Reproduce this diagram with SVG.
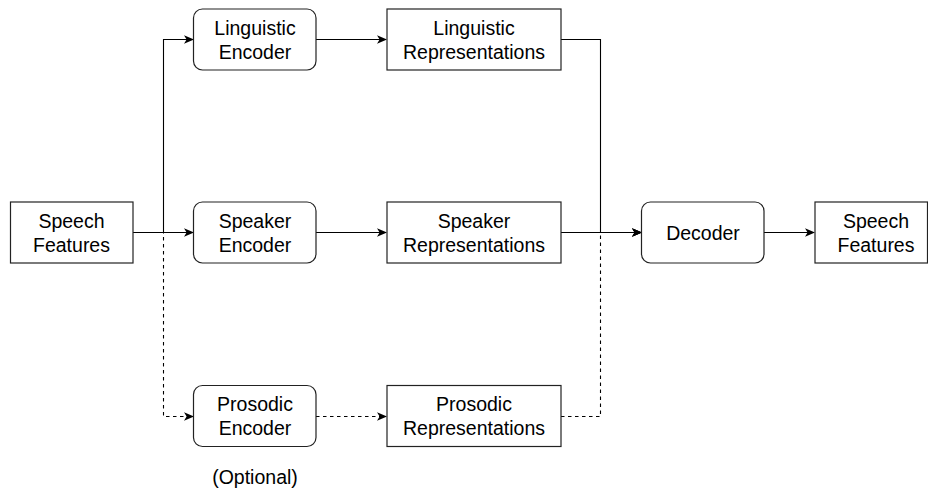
<svg xmlns="http://www.w3.org/2000/svg" width="928" height="491" viewBox="0 0 928 491">
  <defs>
    <marker id="arrow" viewBox="0 0 10 10" refX="9" refY="5" markerWidth="10" markerHeight="10" markerUnits="userSpaceOnUse" orient="auto">
      <path d="M0,0.8 L10,5 L0,9.2 L2.6,5 Z" fill="#000"/>
    </marker>
    <style>
      .box { fill: #fff; stroke: #222; stroke-width: 1.2; }
      .lbl { font-family: "Liberation Sans", Arial, Helvetica, sans-serif; font-size: 19.5px; fill: #000; text-anchor: middle; dominant-baseline: central; }
      .edge { fill: none; stroke: #000; stroke-width: 1.1; }
      .dash { stroke-dasharray: 3.5 3.5; }
    </style>
  </defs>

  <rect width="928" height="491" fill="#fff"/>

  <!-- connectors -->
  <g id="connectors">
    <path class="edge" d="M133,232.5 H163.5 V39.5 H193" marker-end="url(#arrow)"/>
    <path class="edge" d="M133,232.5 H193" marker-end="url(#arrow)"/>
    <path class="edge dash" d="M133,232.5 H163.5 V416.5 H193" marker-end="url(#arrow)"/>
    <path class="edge" d="M316,39.5 H386" marker-end="url(#arrow)"/>
    <path class="edge" d="M316,232.5 H386" marker-end="url(#arrow)"/>
    <path class="edge dash" d="M316,416.5 H386" marker-end="url(#arrow)"/>
    <path class="edge" d="M561,39.5 H600.5 V232.5 H641" marker-end="url(#arrow)"/>
    <path class="edge" d="M561,232.5 H641" marker-end="url(#arrow)"/>
    <path class="edge dash" d="M561,416.5 H600.5 V232.5 H641" marker-end="url(#arrow)"/>
    <path class="edge" d="M764,232.5 H814" marker-end="url(#arrow)"/>
  </g>

  <!-- nodes -->
  <g id="speech-features-in">
    <rect class="box" x="10.5" y="202" width="122.5" height="61"/>
    <text class="lbl" x="71.5" y="220.5">Speech</text>
    <text class="lbl" x="71.5" y="244.5">Features</text>
  </g>

  <g id="linguistic-encoder">
    <rect class="box" x="193.5" y="9" width="122.5" height="61" rx="9"/>
    <text class="lbl" x="255" y="27.5">Linguistic</text>
    <text class="lbl" x="255" y="51.5">Encoder</text>
  </g>

  <g id="speaker-encoder">
    <rect class="box" x="193.5" y="202" width="122.5" height="61" rx="9"/>
    <text class="lbl" x="255" y="220.5">Speaker</text>
    <text class="lbl" x="255" y="244.5">Encoder</text>
  </g>

  <g id="prosodic-encoder">
    <rect class="box" x="193.5" y="385.5" width="122.5" height="61" rx="9"/>
    <text class="lbl" x="255" y="404">Prosodic</text>
    <text class="lbl" x="255" y="428">Encoder</text>
  </g>

  <g id="linguistic-representations">
    <rect class="box" x="387" y="9" width="174" height="61"/>
    <text class="lbl" x="474" y="27.5">Linguistic</text>
    <text class="lbl" x="474" y="51.5">Representations</text>
  </g>

  <g id="speaker-representations">
    <rect class="box" x="387" y="202" width="174" height="61"/>
    <text class="lbl" x="474" y="220.5">Speaker</text>
    <text class="lbl" x="474" y="244.5">Representations</text>
  </g>

  <g id="prosodic-representations">
    <rect class="box" x="387" y="385.5" width="174" height="61"/>
    <text class="lbl" x="474" y="404">Prosodic</text>
    <text class="lbl" x="474" y="428">Representations</text>
  </g>

  <g id="decoder">
    <rect class="box" x="641.5" y="202" width="122.5" height="61" rx="9"/>
    <text class="lbl" x="703" y="232.5">Decoder</text>
  </g>

  <g id="speech-features-out">
    <rect class="box" x="815" y="202" width="112.5" height="61"/>
    <text class="lbl" x="876" y="220.5">Speech</text>
    <text class="lbl" x="876" y="244.5">Features</text>
  </g>

  <g id="optional-note">
    <text class="lbl" x="255" y="477">(Optional)</text>
  </g>
</svg>
